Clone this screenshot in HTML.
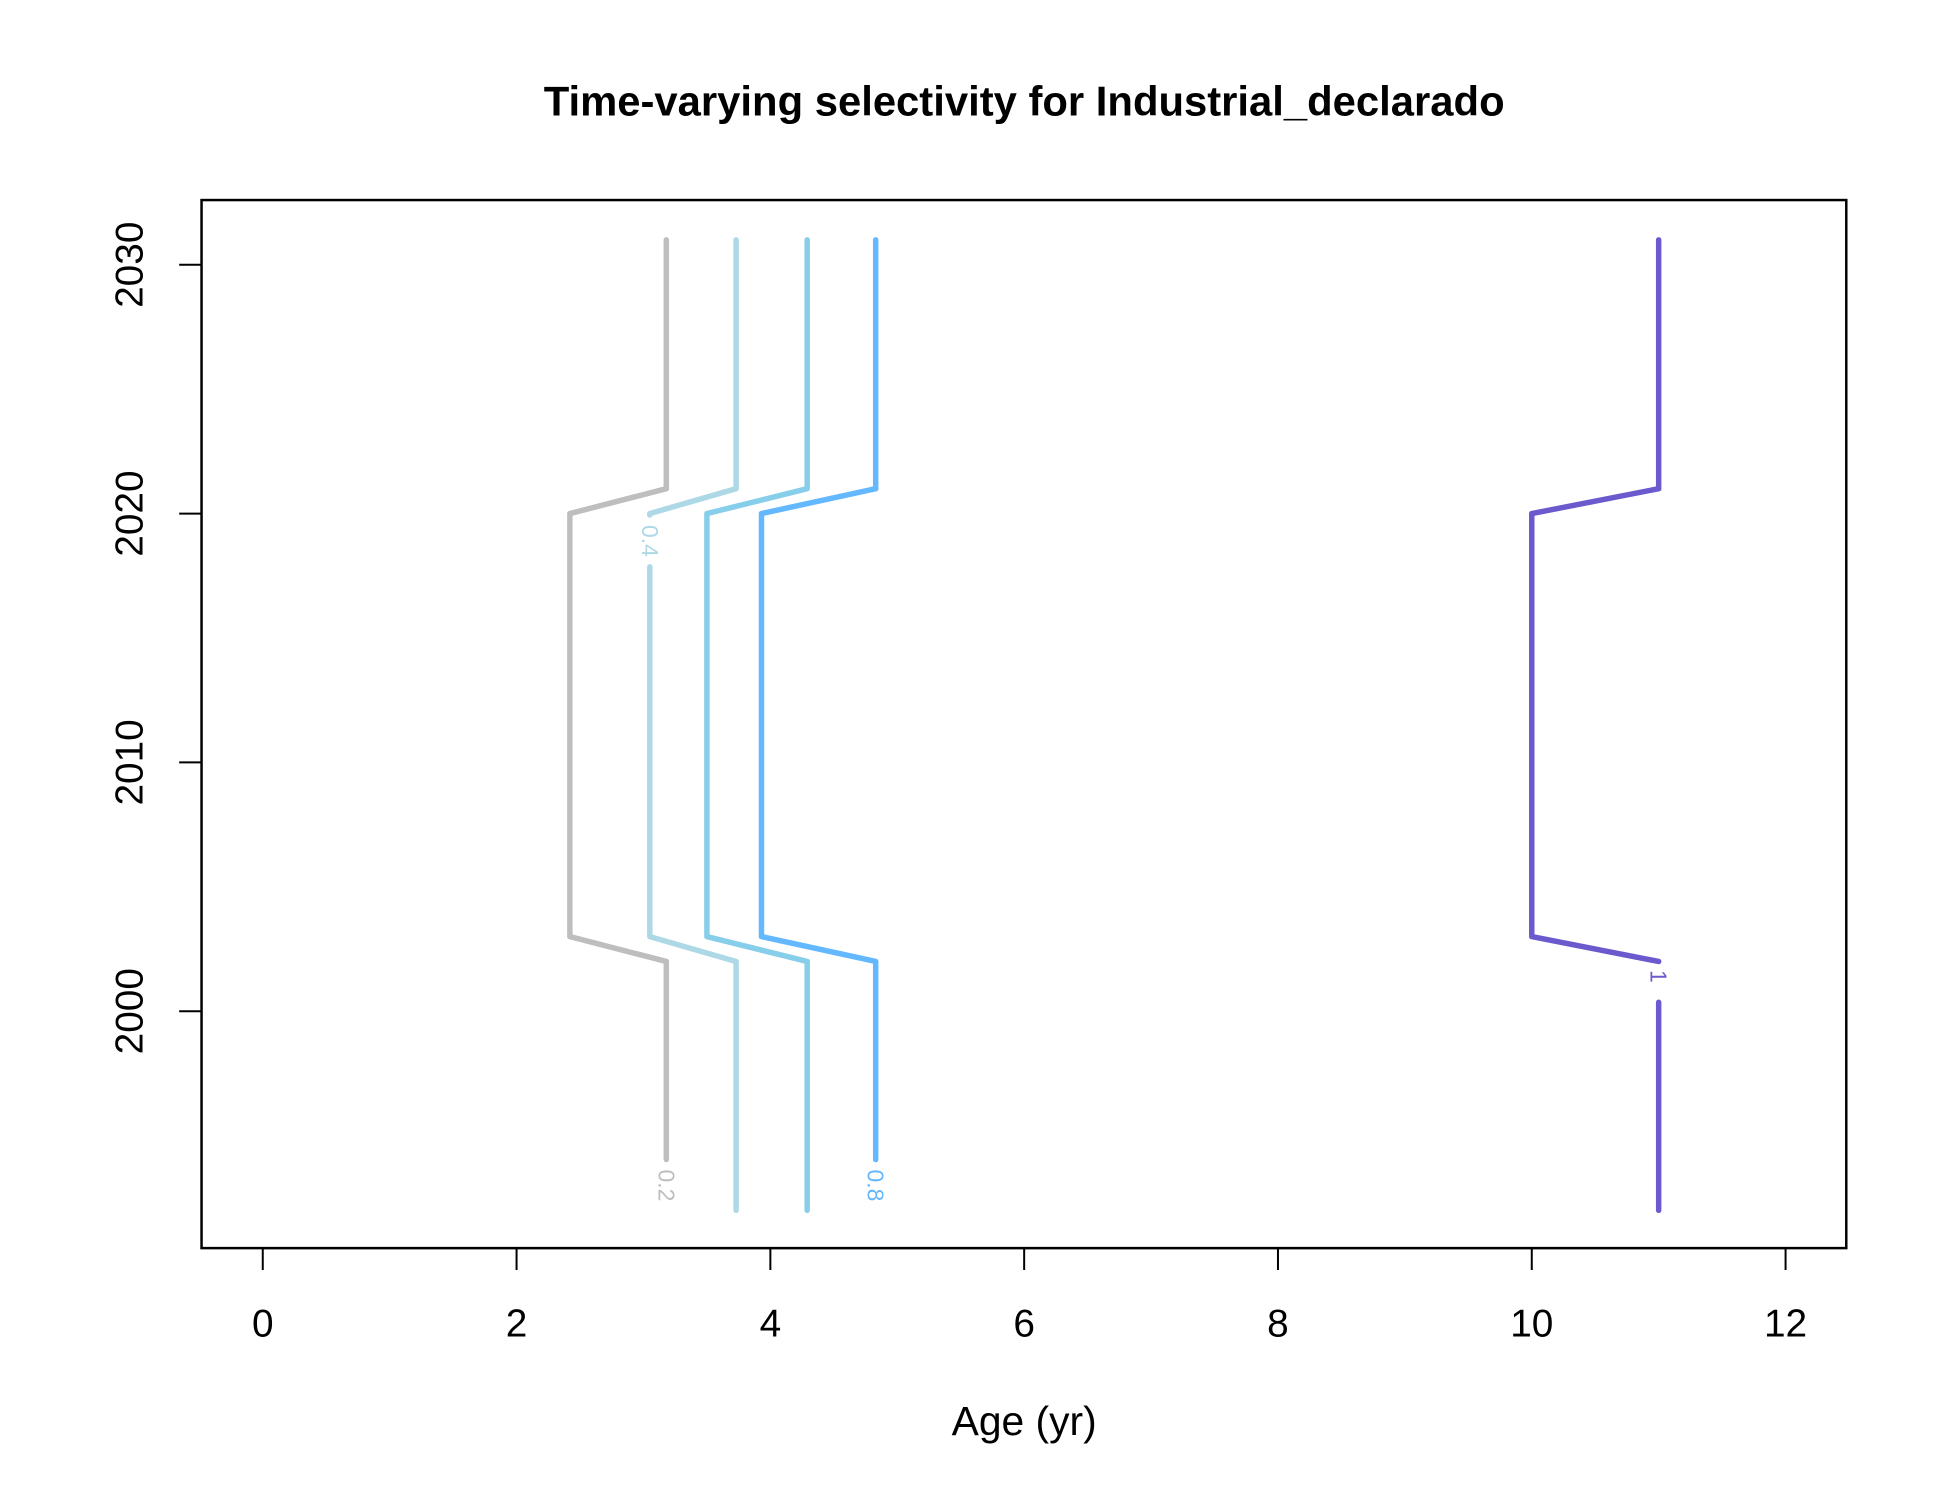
<!DOCTYPE html>
<html><head><meta charset="utf-8"><style>
body{margin:0;background:#fff}
text{font-family:"Liberation Sans",Arial,sans-serif}
</style></head><body>
<svg id="chart" width="1950" height="1500" viewBox="0 0 1950 1500" xmlns="http://www.w3.org/2000/svg">
<rect width="1950" height="1500" fill="#fff"/>
<g transform="scale(0.9953)">
<text x="1029" y="116" text-anchor="middle" font-size="42" font-weight="bold">Time-varying selectivity for Industrial_declarado</text>
<rect x="202.5" y="201" width="1652.5" height="1053" fill="none" stroke="#000" stroke-width="2.5"/>
<g id="xaxis"></g>
<g id="yaxis"></g>
<text x="1029" y="1442" text-anchor="middle" font-size="41">Age (yr)</text>
<g id="lines"></g>
</g>
</svg>
<script>
const xTicks=[0,2,4,6,8,10,12];
const yTicks=[2000,2010,2020,2030];
const levels=["0.2","0.4","0.6","0.8","1"];
const levelColors=["#BEBEBE","#ADD8E6","#87CEEB","#63B8FF","#6A5ACD"];
const years=[1992,2002,2003,2020,2021,2031];
const age02=[3.18,3.18,2.42,2.42,3.18,3.18];
const age04=[3.73,3.73,3.05,3.05,3.73,3.73];
const age06=[4.29,4.29,3.5,3.5,4.29,4.29];
const age08=[4.83,4.83,3.93,3.93,4.83,4.83];
const age10=[11.0,11.0,10.0,10.0,11.0,11.0];
const labelYears=[1993,2018.9,null,1993,2001.4];
const ages=[age02,age04,age06,age08,age10];

const NS="http://www.w3.org/2000/svg";
const X=a=>264+a*127.5;
const Y=y=>1016-(y-2000)*25;
function mk(tag,attrs,parent){const e=document.createElementNS(NS,tag);for(const k in attrs)e.setAttribute(k,attrs[k]);parent.appendChild(e);return e;}
const xg=document.getElementById('xaxis'),yg=document.getElementById('yaxis'),lg=document.getElementById('lines');
mk('line',{x1:X(0),x2:X(12),y1:1254,y2:1254,stroke:'#000','stroke-width':2},xg);
xTicks.forEach(t=>{
  const l=mk('line',{x1:X(t),x2:X(t),y1:1254,y2:1276,stroke:'#000','stroke-width':2},xg);
  
  
  const tx=mk('text',{x:X(t),y:1343,'text-anchor':'middle','font-size':39},xg);
  tx.textContent=t;
  
  
});
yTicks.forEach(t=>{
  const l=mk('line',{x1:202,x2:180,y1:Y(t),y2:Y(t),stroke:'#000','stroke-width':2},yg);
  
  
  const tx=mk('text',{x:0,y:0,'text-anchor':'middle','font-size':39,transform:`translate(143,${Y(t)}) rotate(-90)`},yg);
  tx.textContent=t;
  
  
});
ages.forEach((arr,i)=>{
  const pts=arr.map((a,j)=>[X(a),Y(years[j])]);
  const ly=labelYears[i];
  let segs=[pts];
  if(ly!==null){
    const ypix=Y(ly),half=26;
    let lx=pts[0][0];
    segs=[];let cur=[];let done=false;
    for(let j=0;j<pts.length;j++){
      cur.push(pts[j]);
      if(j<pts.length-1&&!done){
        const y0=pts[j][1],y1=pts[j+1][1];
        if(ypix<=y0&&ypix>=y1&&Math.abs(y0-y1)>30){
          const interp=yy=>pts[j][0]+(pts[j+1][0]-pts[j][0])*(yy-y0)/(y1-y0);
          lx=interp(ypix);
          const ya=Math.min(y0,ypix+half),yb=Math.max(y1,ypix-half);
          cur.push([interp(ya),ya]);
          segs.push(cur);cur=[[interp(yb),yb]];done=true;
        }
      }
    }
    segs.push(cur);
    const t=mk('text',{x:0,y:0,'text-anchor':'middle','font-size':23,fill:levelColors[i],transform:`translate(${lx-8},${ypix}) rotate(90)`},lg);
    t.textContent=levels[i];
    
    
  }
  segs.forEach(s=>{
    if(s.length<2)return;
    let len=0;for(let k=1;k<s.length;k++)len+=Math.hypot(s[k][0]-s[k-1][0],s[k][1]-s[k-1][1]);
    if(len<8)return;
    const p=mk('polyline',{points:s.map(q=>q.join(',')).join(' '),fill:'none',stroke:levelColors[i],'stroke-width':5.5,'stroke-linejoin':'round','stroke-linecap':'round'},lg);
    
    
  });
});
</script>
</body></html>
